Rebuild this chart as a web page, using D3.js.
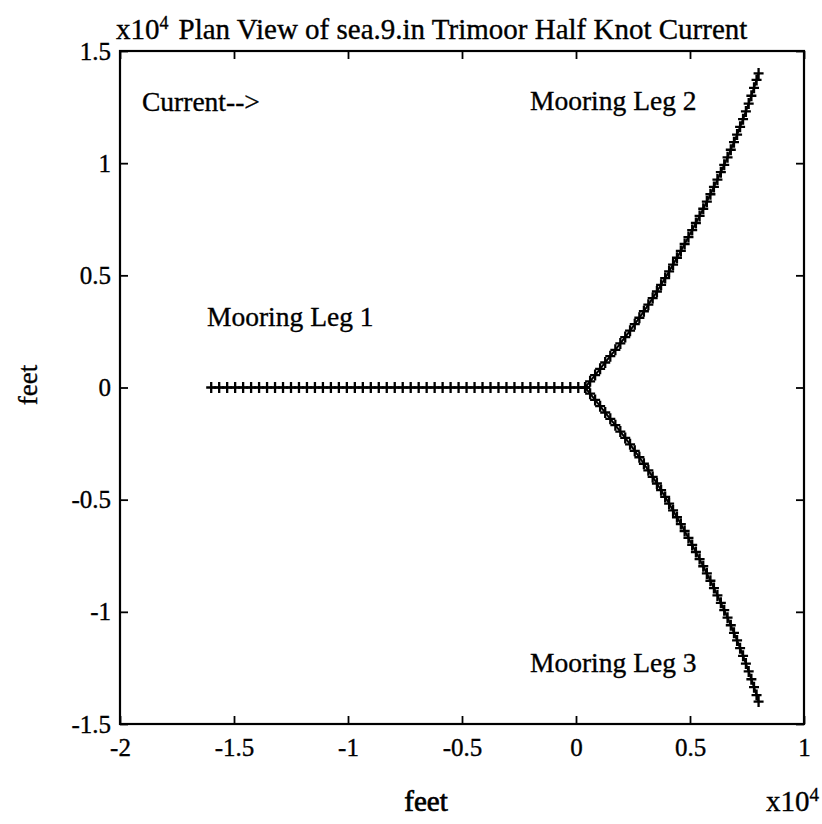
<!DOCTYPE html>
<html><head><meta charset="utf-8">
<script src="https://cdn.jsdelivr.net/npm/d3@7"></script>
<style>body{margin:0;background:#fff} text{stroke:#000;stroke-width:0.35px}</style>
</head><body>
<script>
// ---- data (feet) ----
const xTicks = [-20000, -15000, -10000, -5000, 0, 5000, 10000];
const yTicks = [-15000, -10000, -5000, 0, 5000, 10000, 15000];
const leg1X = [-16000,-15650,-15300,-14950,-14600,-14250,-13900,-13550,-13200,-12850,-12500,-12150,-11800,-11450,-11100,-10750,-10400,-10050,-9700,-9350,-9000,-8650,-8300,-7950,-7600,-7250,-6900,-6550,-6200,-5850,-5500,-5150,-4800,-4450,-4100,-3750,-3400,-3050,-2700,-2350,-2000,-1650,-1300,-950,-600,-250,100,400];
const leg1Y = [0,0,0,0,0,0,0,0,0,0,0,0,0,0,0,0,0,0,0,0,0,0,0,0,0,0,0,0,0,0,0,0,0,0,0,0,0,0,0,0,0,0,0,0,0,0,0,0];
const leg2X = [400,619,838,1058,1281,1504,1726,1944,2159,2371,2577,2779,2978,3173,3363,3549,3732,3911,4084,4257,4428,4598,4765,4932,5096,5259,5421,5581,5739,5896,6050,6203,6353,6501,6647,6789,6929,7065,7197,7327,7452,7574,7692,7808,7919,8008];
const leg2Y = [0,277,555,833,1115,1397,1680,1963,2248,2535,2822,3110,3400,3692,3985,4280,4577,4876,5176,5479,5783,6089,6397,6707,7019,7333,7650,7968,8290,8614,8940,9267,9597,9928,10262,10598,10936,11276,11618,11962,12308,12656,13005,13357,13711,14000];
const leg3X = [400,619,838,1058,1281,1504,1726,1944,2159,2371,2577,2779,2978,3173,3363,3549,3732,3911,4084,4257,4428,4598,4765,4932,5096,5259,5421,5581,5739,5896,6050,6203,6353,6501,6647,6789,6929,7065,7197,7327,7452,7574,7692,7808,7919,8008];
const leg3Y = [0,-277,-555,-833,-1115,-1397,-1680,-1963,-2248,-2535,-2822,-3110,-3400,-3692,-3985,-4280,-4577,-4876,-5176,-5479,-5783,-6089,-6397,-6707,-7019,-7333,-7650,-7968,-8290,-8614,-8940,-9267,-9597,-9928,-10262,-10598,-10936,-11276,-11618,-11962,-12308,-12656,-13005,-13357,-13711,-14000];
const titleText = "Plan View of sea.9.in Trimoor Half Knot Current";
const labelTexts = ["Current-->", "Mooring Leg 1", "Mooring Leg 2", "Mooring Leg 3"];
const xLabel = "feet", yLabel = "feet";

// ---- layout ----
const W = 822, H = 824;
const FONT = "'Liberation Serif','Times New Roman',serif";
const svg = d3.select("body").append("svg").attr("width", W).attr("height", H)
  .style("font-family", FONT);
const x = d3.scaleLinear().domain([-20000, 10000]).range([120, 804]);
const y = d3.scaleLinear().domain([-15000, 15000]).range([724, 51]);
const fmt = d => String(d / 1e4);

// frame
svg.append("rect").attr("x", 120).attr("y", 51).attr("width", 684).attr("height", 673)
  .attr("fill", "none").attr("stroke", "#000").attr("stroke-width", 2.2);

const tl = 8;
const g = svg.append("g");
g.append("g").attr("transform", "translate(0,724)")
  .call(d3.axisBottom(x).tickValues(xTicks).tickSize(-tl).tickPadding(14).tickFormat(fmt))
  .call(a => a.select(".domain").remove());
g.append("g").attr("transform", "translate(0,51)")
  .call(d3.axisTop(x).tickValues(xTicks).tickSize(-tl).tickFormat(""))
  .call(a => a.select(".domain").remove());
g.append("g").attr("transform", "translate(120,0)")
  .call(d3.axisLeft(y).tickValues(yTicks).tickSize(-tl).tickPadding(9).tickFormat(fmt))
  .call(a => a.select(".domain").remove());
g.append("g").attr("transform", "translate(804,0)")
  .call(d3.axisRight(y).tickValues(yTicks).tickSize(-tl).tickFormat(""))
  .call(a => a.select(".domain").remove());
g.selectAll(".tick line").attr("stroke", "#000").attr("stroke-width", 1.8);
g.selectAll(".tick text").attr("fill", "#000").style("font-family", FONT).style("font-size", "25px");

// legs
const legs = [[leg1X, leg1Y], [leg2X, leg2Y], [leg3X, leg3Y]].map(([xs, ys]) => xs.map((v, i) => [v, ys[i]]));
const line = d3.line().x(d => x(d[0])).y(d => y(d[1]));
svg.selectAll("path.leg").data(legs).enter().append("path").attr("class", "leg")
  .attr("d", line).attr("fill", "none").attr("stroke", "#000").attr("stroke-width", 2);
const plus = "M-5,0H5M0,-5.5V5.5";
legs.forEach(pts => {
  svg.append("g").selectAll("path").data(pts).enter().append("path")
    .attr("transform", d => `translate(${x(d[0])},${y(d[1])})`)
    .attr("d", plus).attr("stroke", "#000").attr("stroke-width", 2.3).attr("fill", "none");
});

// title
const t = svg.append("text").attr("x", 116).attr("y", 39).style("font-size", "29px").attr("fill", "#000");
t.append("tspan").text("x10");
t.append("tspan").attr("dy", -10).style("font-size", "18px").text("4");
t.append("tspan").attr("dy", 10).attr("dx", 10).text(titleText);

// annotations
const annPos = [[142, 111], [207, 326], [530, 110], [530, 672]];
svg.selectAll("text.ann").data(labelTexts).enter().append("text").attr("class", "ann")
  .attr("x", (d, i) => annPos[i][0]).attr("y", (d, i) => annPos[i][1])
  .style("font-size", "27.5px").attr("fill", "#000").text(d => d);

// axis labels
svg.append("text").attr("x", 426).attr("y", 811).attr("text-anchor", "middle")
  .style("font-size", "29px").style("stroke-width", "0.7px").text(xLabel);
const e = svg.append("text").attr("x", 819).attr("y", 811).attr("text-anchor", "end").style("font-size", "29px");
e.append("tspan").text("x10");
e.append("tspan").attr("dy", -10).style("font-size", "19px").text("4");
svg.append("text").attr("transform", "translate(37,385) rotate(-90)").attr("text-anchor", "middle")
  .style("font-size", "27px").text(yLabel);
</script>
</body></html>
